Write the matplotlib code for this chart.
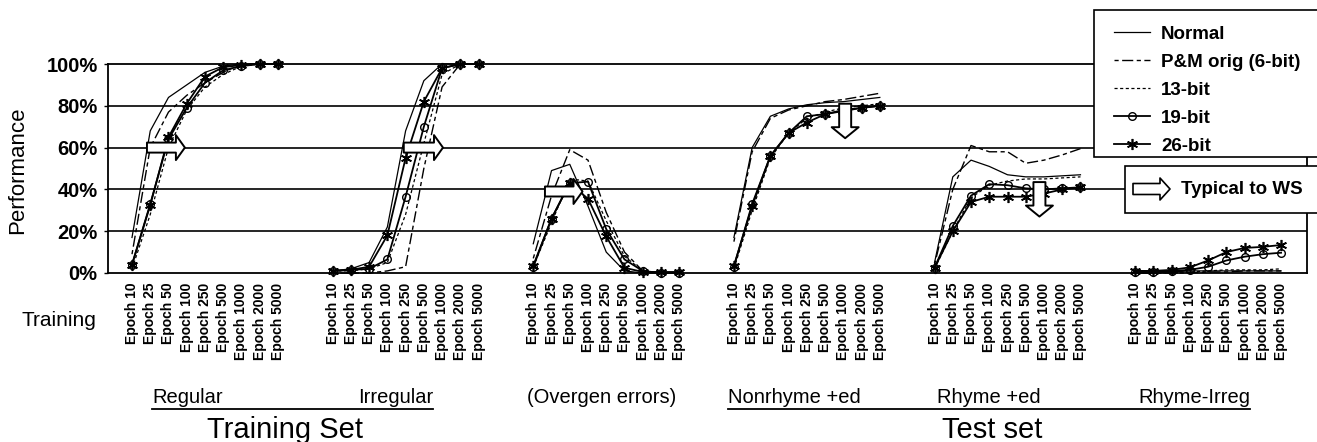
import matplotlib
matplotlib.use('Agg')
import matplotlib.pyplot as plt
from matplotlib.patches import FancyArrowPatch, ArrowStyle, Rectangle
from matplotlib.lines import Line2D

plt.rcParams['font.family'] = ['Liberation Sans', 'DejaVu Sans']

# ---------------- data ----------------
epochs = ["Epoch 10", "Epoch 25", "Epoch 50", "Epoch 100", "Epoch 250",
          "Epoch 500", "Epoch 1000", "Epoch 2000", "Epoch 5000"]
groups = ["Regular", "Irregular", "(Overgen errors)", "Nonrhyme +ed",
          "Rhyme +ed", "Rhyme-Irreg"]

normal = [
    [17, 68, 84, 90, 96, 99, 100, 100, 100],
    [1, 2, 5, 22, 68, 92, 100, 100, 100],
    [14, 49, 52, 32, 10, 1, 0, 0, 0],
    [17, 60, 75, 78.5, 80.5, 81.5, 82, 83, 84],
    [5, 46, 54, 51, 47, 46, 46, 46.5, 47],
    [0, 0, 0.5, 1, 1, 1, 1, 1, 1],
]
pm_orig = [
    [9, 60, 77, 85, 91, 96, 100, 100, 100],
    [0, 0, 0, 1, 3, 50, 89, 100, 100],
    [7, 37, 59, 54, 29, 10, 1, 0, 0],
    [15, 58, 74, 78, 80, 82, 83, 84.5, 86],
    [4, 40, 61, 58, 58, 52.5, 54, 56.5, 59.5],
    [0, 0, 0, 0, 0.5, 0.5, 1, 1, 1],
]
bit13 = [
    [2, 28, 60, 78, 89, 95, 99, 100, 100],
    [1, 1, 2, 5, 28, 62, 95, 100, 100],
    [3, 24, 45, 44, 25, 8, 1, 0, 0],
    [2, 30, 55, 67, 74, 77, 79, 80, 81],
    [2, 20, 36, 42, 44, 45, 45, 45.5, 46],
    [0, 0, 0, 0.5, 1, 1.5, 1.5, 1.5, 2],
]
bit19 = [
    [4, 33, 64, 79, 91, 97, 99, 100, 100],
    [1, 1.5, 2, 6.5, 36.5, 70, 98, 100, 100],
    [3, 26, 43, 43.7, 21, 6.5, 1, 0, 0],
    [3, 33, 56, 67, 75, 76, 78, 79, 80],
    [2.5, 22.5, 37, 42.5, 42, 40.5, 40, 40.5, 41],
    [0.5, 0.5, 1, 1.5, 3, 6, 7.8, 9, 9.7],
]
bit26 = [
    [4, 32.5, 65, 81, 94, 98.5, 99.5, 100, 100],
    [1, 1.5, 3, 18, 55, 82, 98, 100, 100],
    [3.5, 26, 43, 35.5, 17.5, 2.5, 0.5, 0.5, 0.5],
    [3.5, 32, 56, 67, 72, 76, 77.5, 79, 80],
    [2.5, 20, 34, 36.5, 36.5, 36.5, 38, 40, 41],
    [1, 1, 1.5, 2.7, 6, 10, 12, 12.5, 13.4],
]
series_names = ["Normal", "P&M orig (6-bit)", "13-bit", "19-bit", "26-bit"]
series_data = [normal, pm_orig, bit13, bit19, bit26]

# ---------------- styles ----------------
styles = [
    dict(color='black', lw=0.9, ls='-'),
    dict(color='black', lw=1.0, ls=(0, (3, 2.5, 8, 2.5))),
    dict(color='black', lw=0.9, ls=(0, (2.5, 2))),
    dict(color='black', lw=1.3, ls='-', marker='o', ms=5.5, mfc='none', mew=1.0),
    dict(color='black', lw=1.3, ls='-', marker=(6, 2, 0), ms=8, mew=1.2),
]

W, H = 1317, 442
fig = plt.figure(figsize=(W / 100, H / 100), dpi=100)
ax = fig.add_axes([108 / W, (H - 273) / H, 1199 / W, 209 / H])

slots = 11
xticks, xlabels = [], []
for g in range(len(groups)):
    xs = [g * slots + i for i in range(len(epochs))]
    xticks += xs
    xlabels += epochs
    for name, data, st in zip(series_names, series_data, styles):
        ax.plot(xs, data[g], clip_on=False, zorder=3, **st)

ax.set_xlim(-1.316, 64.42)
ax.set_ylim(0, 100)
ax.set_yticks([0, 20, 40, 60, 80, 100])
ax.set_yticklabels(["0%", "20%", "40%", "60%", "80%", "100%"],
                   fontsize=14.5, fontweight='bold')
ax.set_xticks(xticks)
ax.set_xticklabels(xlabels, rotation=90, fontsize=10, fontweight='bold',
                   va='top', ha='center')
ax.tick_params(axis='x', length=0, pad=7)
ax.tick_params(axis='y', length=3, pad=4.5, width=1)
for y in [20, 40, 60, 80]:
    ax.axhline(y, color='black', lw=1.2, zorder=1)
for sp in ax.spines.values():
    sp.set_linewidth(1.3)
    sp.set_color('black')
fig.text(18 / W, (H - 170) / H, "Performance", fontsize=16, rotation=90,
         ha='center', va='center')

# ---------------- "typical to WS" arrows ----------------
pt = 100 / 72.0
def harrow(x0, x1, y):
    a = FancyArrowPatch((x0, y), (x1, y),
                        arrowstyle=ArrowStyle.Simple(head_length=9 / pt,
                                                     head_width=25 / pt,
                                                     tail_width=10 / pt),
                        mutation_scale=1, fc='white', ec='black', lw=1.4,
                        shrinkA=0, shrinkB=0, transform=ax.transData,
                        clip_on=False, zorder=6)
    ax.add_patch(a)

def varrow(x, y0, y1):
    a = FancyArrowPatch((x, y0), (x, y1),
                        arrowstyle=ArrowStyle.Simple(head_length=11 / pt,
                                                     head_width=27 / pt,
                                                     tail_width=12 / pt),
                        mutation_scale=1, fc='white', ec='black', lw=1.4,
                        shrinkA=0, shrinkB=0, transform=ax.transData,
                        clip_on=False, zorder=6)
    ax.add_patch(a)

harrow(0.82, 2.9, 60)
harrow(14.9, 17.05, 60)
harrow(22.64, 24.7, 39)
varrow(39.1, 81, 64.5)
varrow(49.75, 43.5, 27)

# ---------------- legend ----------------
fig.add_artist(Rectangle((1094 / W, (H - 157) / H), 0.2, 147 / H,
                         transform=fig.transFigure, fc='white', ec='black',
                         lw=1.2, zorder=4))
handles = [Line2D([], [], **st) for st in styles]
leg = fig.legend(handles, series_names, loc='upper left',
                 bbox_to_anchor=(1114 / W, (H - 25.5) / H), borderaxespad=0,
                 frameon=False, prop=dict(size=13.5, weight='bold'),
                 handlelength=1.9, handletextpad=0.6, labelspacing=0.585,
                 borderpad=0)
leg.set_zorder(5)

# "Typical to WS" box
fig.add_artist(Rectangle((1125 / W, (H - 213) / H), 0.2, 47 / H,
                         transform=fig.transFigure, fc='white', ec='black',
                         lw=1.2, zorder=4))
fig.add_artist(FancyArrowPatch((1133 / W, (H - 189) / H), (1170 / W, (H - 189) / H),
                               arrowstyle=ArrowStyle.Simple(head_length=10 / pt,
                                                            head_width=22 / pt,
                                                            tail_width=11 / pt),
                               mutation_scale=1, fc='white', ec='black', lw=1.2,
                               shrinkA=0, shrinkB=0, transform=fig.transFigure,
                               zorder=5))
fig.text(1181 / W, (H - 189) / H, "Typical to WS", fontsize=13.5, fontweight='bold',
         ha='left', va='center', zorder=6)

# ---------------- group labels ----------------
fig.text(21 / W, (H - 326) / H, "Training", fontsize=15, ha='left', va='baseline')
base = (H - 403) / H
fig.text(152 / W, base, groups[0], fontsize=14.5, ha='left', va='baseline')
fig.text(433 / W, base, groups[1], fontsize=14.5, ha='right', va='baseline')
fig.text(527 / W, base, groups[2], fontsize=14.5, ha='left', va='baseline')
fig.text(728 / W, base, groups[3], fontsize=14.5, ha='left', va='baseline')
fig.text(937 / W, base, groups[4], fontsize=14.5, ha='left', va='baseline')
fig.text(1138 / W, base, groups[5], fontsize=14.5, ha='left', va='baseline')
uy = (H - 409) / H
fig.add_artist(Line2D([152 / W, 433 / W], [uy, uy], color='black', lw=1.3))
fig.add_artist(Line2D([728 / W, 1250 / W], [uy, uy], color='black', lw=1.3))
fig.text(285 / W, (H - 438) / H, "Training Set", fontsize=21, ha='center', va='baseline')
fig.text(992 / W, (H - 438) / H, "Test set", fontsize=21, ha='center', va='baseline')

fig.savefig("out.png", dpi=100)
